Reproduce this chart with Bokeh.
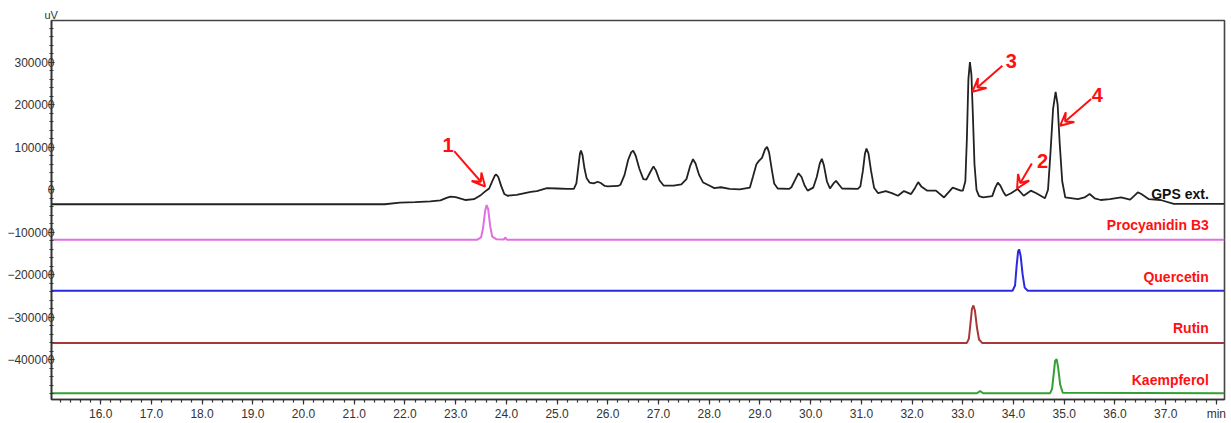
from bokeh.plotting import figure
from bokeh.models import (Range1d, FixedTicker, BasicTickFormatter, PrintfTickFormatter,
                          Arrow, VeeHead, ColumnDataSource)
from bokeh.core.properties import value
from bokeh.embed import file_html
from bokeh.resources import INLINE

# ---------------- data (retention time in min, signal in uV) ----------------
gps_t = [15.03, 21.6, 21.9, 22.2, 22.5, 22.7, 22.82, 22.9, 23.0, 23.1, 23.2, 23.36,
         23.5, 23.6, 23.66, 23.72, 23.77, 23.8, 23.84, 23.9, 23.96, 24.02, 24.2, 24.48,
         24.6, 24.8, 25.0, 25.2, 25.33, 25.38, 25.42, 25.45, 25.47, 25.5, 25.54, 25.58,
         25.64, 25.72, 25.8, 25.86, 25.94, 26.0, 26.2, 26.25, 26.33, 26.4, 26.46, 26.5,
         26.55, 26.62, 26.7, 26.76, 26.83, 26.9, 26.95, 27.02, 27.1, 27.3, 27.45, 27.55,
         27.62, 27.68, 27.73, 27.8, 27.88, 28.0, 28.1, 28.23, 28.4, 28.6, 28.8, 28.86,
         28.93, 28.98, 29.04, 29.1, 29.14, 29.18, 29.23, 29.28, 29.35, 29.57, 29.62, 29.7,
         29.76, 29.82, 29.88, 29.94, 30.05, 30.12, 30.18, 30.22, 30.26, 30.32, 30.38, 30.45,
         30.5, 30.56, 30.62, 30.93, 30.98, 31.03, 31.07, 31.1, 31.14, 31.19, 31.25, 31.33,
         31.48, 31.6, 31.72, 31.84, 31.98, 32.06, 32.12, 32.18, 32.3, 32.47, 32.63, 32.8,
         32.96, 33.0, 33.05, 33.08, 33.11, 33.14, 33.17, 33.2, 33.23, 33.27, 33.32, 33.4,
         33.58, 33.64, 33.69, 33.74, 33.8, 33.85, 33.95, 34.08, 34.2, 34.34, 34.45, 34.62,
         34.68, 34.73, 34.78, 34.83, 34.87, 34.91, 34.96, 35.02, 35.27, 35.4, 35.5, 35.6,
         35.72, 35.9, 36.12, 36.3, 36.4, 36.45, 36.52, 36.67, 36.9, 37.16, 38.16]
gps_v = [-34000, -34000, -30000, -29000, -27000, -25000, -19000, -16000, -17000, -21000,
         -24000, -22000, -12000, -2000, 3000, 20000, 33000, 36000, 30000, 8000, -10000,
         -14000, -12000, -5000, -3000, 4000, 3000, 2000, 2000, 15000, 55000, 85000, 92000,
         82000, 50000, 28000, 17000, 15000, 19000, 16000, 9000, 8000, 9000, 12000, 35000,
         70000, 88000, 92000, 80000, 50000, 25000, 24000, 40000, 55000, 45000, 22000, 10000,
         10000, 13000, 25000, 55000, 72000, 62000, 35000, 17000, 10000, 4000, 6000, 2000,
         1000, 5000, 30000, 60000, 68000, 75000, 95000, 101000, 88000, 50000, 15000, 3000,
         2000, 6000, 25000, 39000, 30000, 10000, -2000, 5000, 30000, 62000, 73000, 58000,
         20000, 3000, 15000, 21000, 12000, 3000, 2000, 8000, 45000, 85000, 97000, 85000,
         45000, 5000, -8000, -3000, -8000, -14000, -3000, -10000, 5000, 18000, 8000, -2000,
         -2000, -18000, 5000, -2000, -2000, 20000, 120000, 260000, 300000, 270000, 170000,
         60000, 0, -15000, -18000, -15000, 5000, 17000, 10000, -5000, -14000, -8000, 2000,
         -14000, -2000, -8000, -20000, 0, 90000, 190000, 230000, 200000, 110000, 20000,
         -18000, -22000, -18000, -10000, -20000, -24000, -22000, -18000, -23000, -12000,
         -6000, -10000, -22000, -24000, -33000, -33000]

pro_t = [15.03, 23.42, 23.5, 23.54, 23.58, 23.61, 23.64, 23.68, 23.72, 23.8, 23.95, 23.98,
         24.01, 38.16]
pro_v = [-117600, -117600, -112000, -90000, -50000, -36000, -45000, -85000, -110000, -116000,
         -117000, -112000, -117600, -117600]

que_t = [15.03, 33.98, 34.03, 34.06, 34.09, 34.11, 34.14, 34.18, 34.22, 34.28, 38.16]
que_v = [-237300, -237300, -225000, -180000, -145000, -140000, -155000, -200000, -230000,
         -237300, -237300]

rut_t = [15.03, 33.08, 33.12, 33.15, 33.18, 33.21, 33.24, 33.28, 33.32, 33.38, 38.16]
rut_v = [-360000, -360000, -350000, -315000, -280000, -272000, -285000, -325000, -352000,
         -360000, -360000]

kae_t = [15.03, 33.28, 33.34, 33.4, 34.72, 34.76, 34.79, 34.82, 34.85, 34.88, 34.92, 34.97,
         38.16]
kae_v = [-478500, -478500, -473000, -478500, -478500, -468000, -435000, -402000, -398000,
         -418000, -458000, -477000, -478500]

trace_names = ["GPS ext.", "Procyanidin B3", "Quercetin", "Rutin", "Kaempferol"]
trace_label_y = [-10000, -82600, -206000, -325000, -446000]

peak_ids = ["1", "2", "3", "4"]
peak_label_x = [22.85, 34.57, 33.955, 35.65]
peak_label_y = [106400, 67400, 302000, 221900]
arrow_x_start = [22.97, 34.36, 33.78, 35.53]
arrow_y_start = [90700, 62000, 291400, 213700]
arrow_x_end = [23.58, 34.07, 33.19, 34.92]
arrow_y_end = [7700, 3000, 230700, 150700]

x_major = [16, 17, 18, 19, 20, 21, 22, 23, 24, 25, 26, 27, 28, 29, 30, 31, 32, 33, 34, 35, 36, 37, 38]
y_major = [-400000, -300000, -200000, -100000, 0, 100000, 200000, 300000]

# ---------------- figure ----------------
FONT = "Liberation Sans"
p = figure(width=1231, height=423, output_backend="svg", toolbar_location=None,
           x_range=Range1d(15.03, 38.16), y_range=Range1d(-493000, 398000),
           min_border_left=51, min_border_top=20, min_border_right=7, min_border_bottom=21)
p.grid.visible = False
p.outline_line_color = "#444444"
p.outline_line_width = 1.6
p.background_fill_color = "white"
p.border_fill_color = "white"

# unit label on top of the y axis
p.title.text = "uV"
p.title.align = "left"
p.title.offset = -7
p.title.standoff = 0
p.title.text_font = FONT
p.title.text_font_size = "11px"
p.title.text_font_style = "normal"
p.title.text_color = "#333333"

x_minor = [round(15.2 + 0.2 * i, 1) for i in range(115)]
y_minor = [-480000 + 20000 * i for i in range(44)]
p.xaxis.ticker = FixedTicker(ticks=x_major, minor_ticks=x_minor)
p.yaxis.ticker = FixedTicker(ticks=y_major, minor_ticks=y_minor)
p.xaxis.formatter = PrintfTickFormatter(format="%.1f")
p.xaxis.major_label_overrides = {38: "min"}
p.yaxis.formatter = BasicTickFormatter(use_scientific=False)

for ax in (p.xaxis, p.yaxis):
    ax.axis_line_color = "#333333"
    ax.axis_line_width = 1.6
    ax.major_tick_line_color = "#333333"
    ax.minor_tick_line_color = "#333333"
    ax.major_tick_line_width = 1.2
    ax.minor_tick_line_width = 1.2
    ax.major_label_text_font = FONT
    ax.major_label_text_font_size = "12px"
    ax.major_label_text_color = "#333333"

p.xaxis.major_tick_out = 5
p.xaxis.major_tick_in = 0
p.xaxis.minor_tick_out = 3
p.xaxis.minor_tick_in = 0
p.xaxis.major_label_standoff = 2

p.yaxis.major_tick_out = 3
p.yaxis.major_tick_in = 3
p.yaxis.minor_tick_out = 2
p.yaxis.minor_tick_in = 2
p.yaxis.major_label_standoff = -6

# traces
p.line(gps_t, gps_v, line_color="#222222", line_width=1.8)
p.line(pro_t, pro_v, line_color="#e070e0", line_width=2)
p.line(que_t, que_v, line_color="#2a2ae0", line_width=2)
p.line(rut_t, rut_v, line_color="#a83838", line_width=2)
p.line(kae_t, kae_v, line_color="#34a034", line_width=2)

# trace names
name_colors = ["#111111", "#ff1010", "#ff1010", "#ff1010", "#ff1010"]
src = ColumnDataSource(dict(x=[37.85] * 5, y=trace_label_y, t=trace_names, c=name_colors))
p.text(x="x", y="y", text="t", text_color="c", source=src, text_align="right",
       text_baseline="middle", text_font=value(FONT), text_font_style="bold",
       text_font_size="14px")

# peak numbers and arrows
src2 = ColumnDataSource(dict(x=peak_label_x, y=peak_label_y, t=peak_ids))
p.text(x="x", y="y", text="t", source=src2, text_color="#ff1010", text_align="center",
       text_baseline="middle", text_font=value(FONT), text_font_style="bold",
       text_font_size="20px")
for xs, ys, xe, ye in zip(arrow_x_start, arrow_y_start, arrow_x_end, arrow_y_end):
    p.add_layout(Arrow(x_start=xs, y_start=ys, x_end=xe, y_end=ye,
                       line_color="#ff1010", line_width=2,
                       end=VeeHead(size=13, line_color="#ff1010", line_width=2,
                                   fill_color=None)))

open("out.html", "w").write(file_html(p, INLINE))
